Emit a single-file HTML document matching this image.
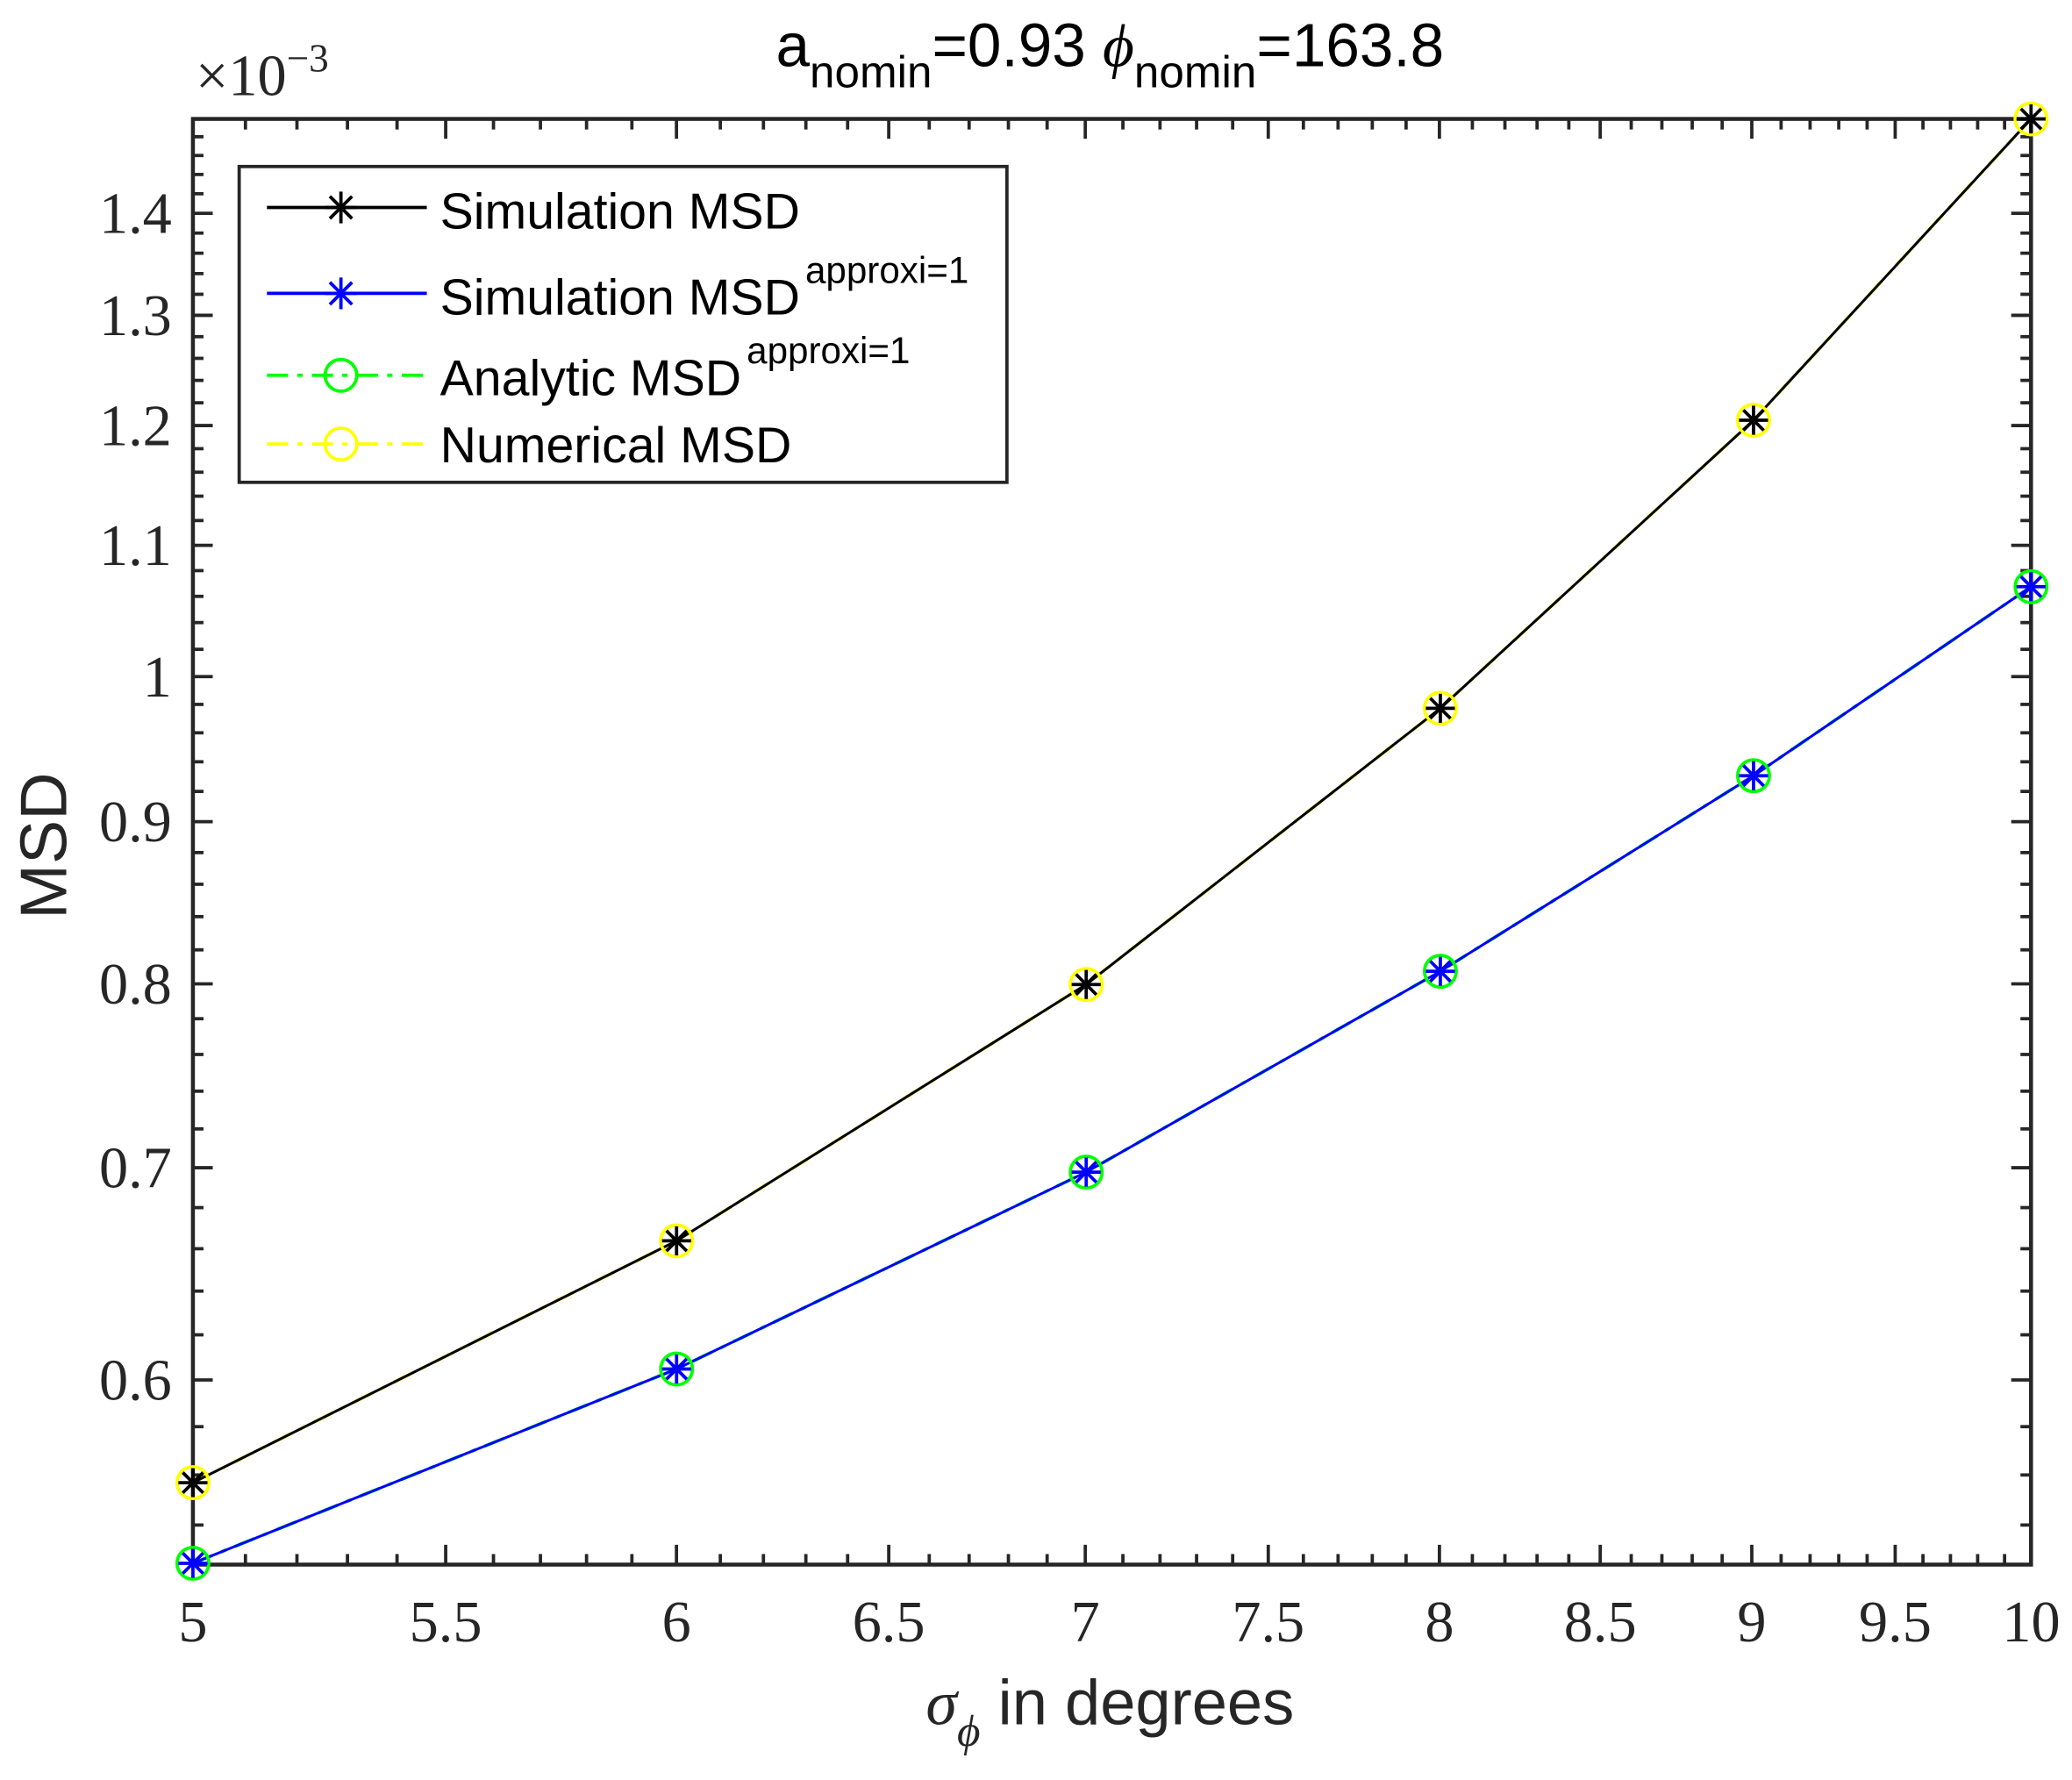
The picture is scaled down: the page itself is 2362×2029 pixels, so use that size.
<!DOCTYPE html>
<html><head><meta charset="utf-8"><style>
html,body{margin:0;padding:0;background:#fff;}
svg{display:block;}
</style></head><body>
<svg id="s" xmlns="http://www.w3.org/2000/svg" width="2362" height="2029" viewBox="0 0 1568 1347" preserveAspectRatio="none">
<rect width="1568" height="1347" fill="#fff"/>
<g id="ticks" stroke="#262626" stroke-width="2.5"></g>
<rect x="146" y="90" width="1391" height="1094" fill="none" stroke="#262626" stroke-width="3"/>
<g id="labels" font-family="Liberation Serif, serif" font-size="44" fill="#262626"></g>
<g fill="none">
<polyline points="146,1122 512,939 822,745 1090,536 1327,318 1537,90" stroke="#ffff00" stroke-width="2.5" stroke-dasharray="16,7,4,7"/>
<polyline points="146,1122 512,939 822,745 1090,536 1327,318 1537,90" stroke="#000" stroke-width="2"/>
<polyline points="146,1183 512,1036 822,887 1090,735 1327,587 1537,444" stroke="#00ff00" stroke-width="2.5" stroke-dasharray="16,7,4,7"/>
<polyline points="146,1183 512,1036 822,887 1090,735 1327,587 1537,444" stroke="#0000ff" stroke-width="2"/>
</g>
<g id="markers" fill="none" stroke-width="2.5"></g>
<rect x="181" y="126" width="581" height="239" fill="#fff" stroke="#262626" stroke-width="2.5"/>
<g font-family="Liberation Sans, sans-serif" font-size="38" fill="#000">
<line x1="202" y1="157" x2="323" y2="157" stroke="#000" stroke-width="2.5"/>
<line x1="202" y1="222" x2="323" y2="222" stroke="#0000ff" stroke-width="2.5"/>
<line x1="202" y1="284" x2="323" y2="284" stroke="#00ff00" stroke-width="2.5" stroke-dasharray="16,7,4,7"/>
<line x1="202" y1="336" x2="323" y2="336" stroke="#ffff00" stroke-width="2.5" stroke-dasharray="16,7,4,7"/>
<text x="333" y="173">Simulation MSD</text>
<text x="333" y="238">Simulation MSD<tspan font-size="28" dx="4" dy="-24">approxi=1</tspan></text>
<text x="333" y="299">Analytic MSD<tspan font-size="28" dx="4" dy="-24">approxi=1</tspan></text>
<text x="333" y="350">Numerical MSD</text>
</g>
<g id="legm" fill="none" stroke-width="2.5"></g>
<text x="840" y="50" text-anchor="middle" font-family="Liberation Sans, sans-serif" font-size="46" fill="#000">a<tspan font-size="34" dy="16">nomin</tspan><tspan dy="-16">=0.93 </tspan><tspan font-family="Liberation Serif, serif" font-style="italic">ϕ</tspan><tspan font-size="34" dy="16">nomin</tspan><tspan dy="-16">=163.8</tspan></text>
<text x="148" y="72" font-family="Liberation Serif, serif" font-size="44" fill="#262626">×10<tspan font-size="30" dy="-18">−3</tspan></text>
<text transform="translate(50,640) rotate(-90)" text-anchor="middle" font-family="Liberation Sans, sans-serif" font-size="50" fill="#262626">MSD</text>
<text x="840" y="1305" text-anchor="middle" font-family="Liberation Sans, sans-serif" font-size="48" fill="#262626"><tspan font-family="Liberation Serif, serif" font-style="italic">σ</tspan><tspan font-size="34" dy="16" font-family="Liberation Serif, serif" font-style="italic">ϕ</tspan><tspan dy="-16"> in degrees</tspan></text>
<script><![CDATA[
var NS="http://www.w3.org/2000/svg";
function X(v){return 146+2007*Math.log(v/5);}
function Y(v){return 512-1042*Math.log(v);}
function el(t,a,p){var e=document.createElementNS(NS,t);for(var k in a)e.setAttribute(k,a[k]);p.appendChild(e);return e;}
var tk=document.getElementById('ticks'),lb=document.getElementById('labels');
for(var i=50;i<=100;i++){var v=i/10,x=X(v);var maj=(i%5==0);var L=maj?15:8;
 el('line',{x1:x,y1:1184,x2:x,y2:1184-L},tk);el('line',{x1:x,y1:90,x2:x,y2:90+L},tk);
 if(maj){var t=el('text',{x:x,y:1242,'text-anchor':'middle'},lb);t.textContent=(i%10==0)?String(i/10):v.toFixed(1);}}
for(var j=54;j<=148;j+=2){var v=j/100,y=Y(v);var maj=(j%10==0);var L=maj?15:8;
 el('line',{x1:146,y1:y,x2:146+L,y2:y},tk);el('line',{x1:1537,y1:y,x2:1537-L,y2:y},tk);
 if(maj){var t=el('text',{x:130,y:y+15,'text-anchor':'end'},lb);t.textContent=(j==100)?'1':(j/100).toFixed(1);}}
var mk=document.getElementById('markers');
function star(cx,cy,c,r,p){el('line',{x1:cx-r,y1:cy,x2:cx+r,y2:cy,stroke:c},p);el('line',{x1:cx,y1:cy-r,x2:cx,y2:cy+r,stroke:c},p);
 el('line',{x1:cx-r*.7,y1:cy-r*.7,x2:cx+r*.7,y2:cy+r*.7,stroke:c},p);el('line',{x1:cx-r*.7,y1:cy+r*.7,x2:cx+r*.7,y2:cy-r*.7,stroke:c},p);}
var xs=[146,512,822,1090,1327,1537],yb=[1122,939,745,536,318,90],yl=[1183,1036,887,735,587,444];
for(var k=0;k<6;k++){el('circle',{cx:xs[k],cy:yb[k],r:12,stroke:'#ffff00'},mk);star(xs[k],yb[k],'#000',11,mk);
 el('circle',{cx:xs[k],cy:yl[k],r:12,stroke:'#00ff00'},mk);star(xs[k],yl[k],'#0000ff',11,mk);}
var lm=document.getElementById('legm');
star(258,157,'#000',12,lm);star(258,222,'#0000ff',12,lm);
el('circle',{cx:258,cy:284,r:12,stroke:'#00ff00'},lm);el('circle',{cx:258,cy:336,r:12,stroke:'#ffff00'},lm);
]]></script>
</svg>
</body></html>
